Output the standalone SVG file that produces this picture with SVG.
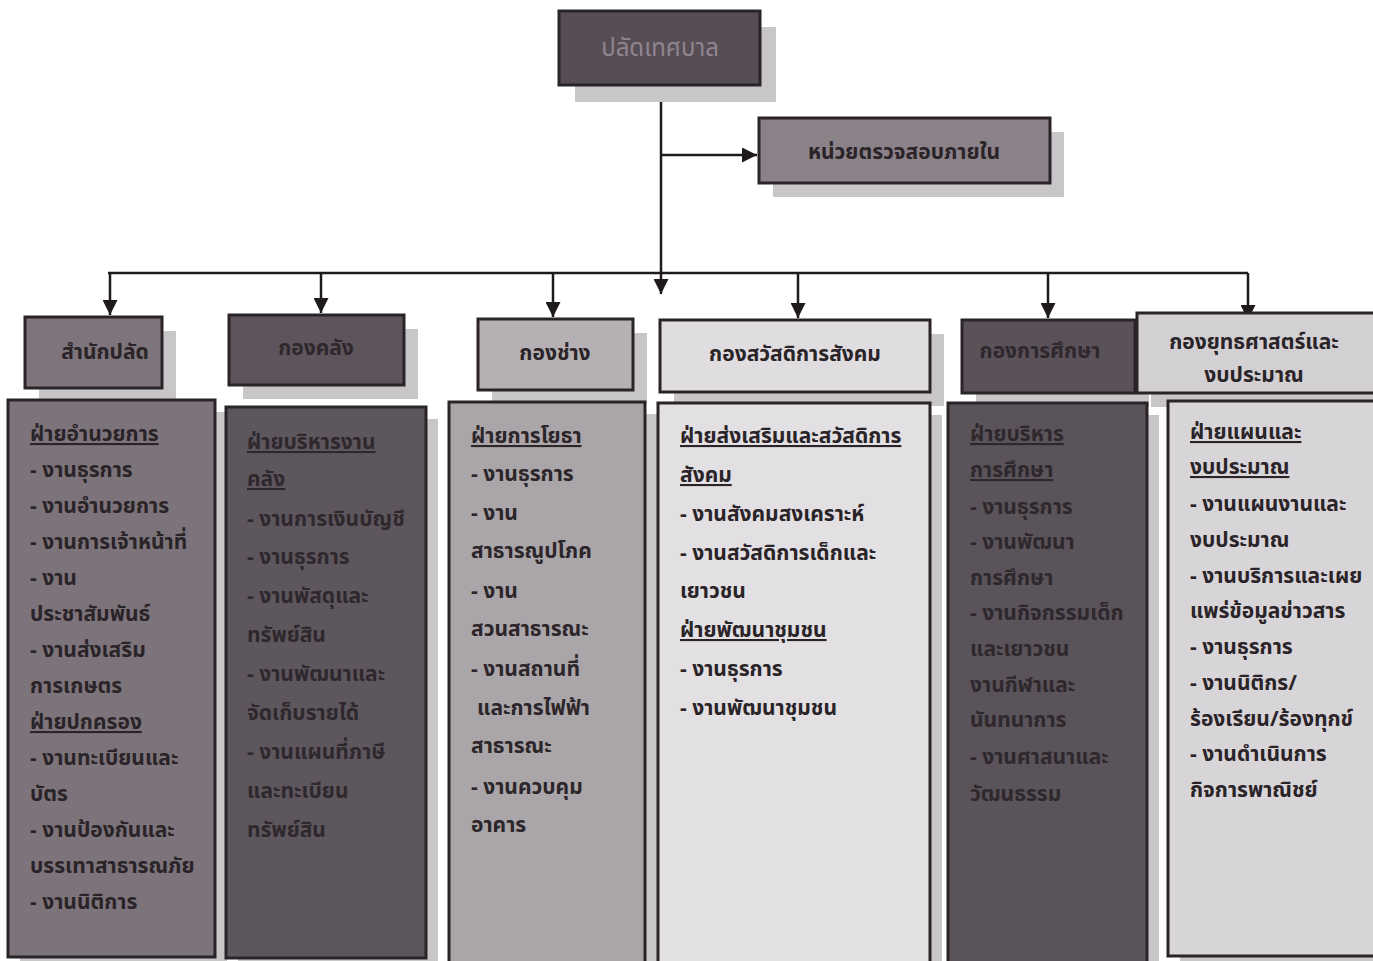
<svg xmlns="http://www.w3.org/2000/svg" width="1373" height="961" viewBox="0 0 1373 961">
<style>
.sh{fill:#c9c6c9}
.bx{stroke:#2a2428;stroke-width:3}
.t{font-family:"Noto Sans Thai","Loma","Garuda","Tahoma","DejaVu Sans",sans-serif;font-size:21px;font-weight:bold}
.h{font-family:"Noto Sans Thai","Loma","Garuda","Tahoma","DejaVu Sans",sans-serif;font-size:21px;font-weight:bold;text-anchor:middle}
.u{text-decoration:underline}
.ln{stroke:#1e1a1d;stroke-width:2.5;fill:none}
</style>
<defs>
<marker id="ar" viewBox="0 0 10 10" refX="10" refY="5" markerWidth="6" markerHeight="6" orient="auto" markerUnits="strokeWidth">
<path d="M0,0 L10,5 L0,10 z" fill="#1e1a1d"/>
</marker>
</defs>
<rect width="1373" height="961" fill="#ffffff"/>

<g id="connectors">
<path class="ln" d="M661,85 V294" marker-end="url(#ar)"/>
<path class="ln" d="M661,155 H757" marker-end="url(#ar)"/>
<path class="ln" d="M108,273 H1248"/>
<path class="ln" d="M110,273 V315" marker-end="url(#ar)"/>
<path class="ln" d="M321,273 V313" marker-end="url(#ar)"/>
<path class="ln" d="M553,273 V317" marker-end="url(#ar)"/>
<path class="ln" d="M798,273 V318" marker-end="url(#ar)"/>
<path class="ln" d="M1048,273 V318" marker-end="url(#ar)"/>
<path class="ln" d="M1248,273 V320" marker-end="url(#ar)"/>
</g>

<g id="n-top">
<rect class="sh" x="575" y="27" width="201" height="75"/>
<rect class="bx" x="559" y="11" width="201" height="74" fill="#574d55"/>
<text class="h" x="660" y="56" fill="#8f8590" style="font-weight:normal;font-size:24px">ปลัดเทศบาล</text>
</g>

<g id="n-audit">
<rect class="sh" x="773" y="132" width="291" height="65"/>
<rect class="bx" x="759" y="118" width="291" height="65" fill="#8a8189"/>
<text class="h" x="904" y="159" fill="#2a2428">หน่วยตรวจสอบภายใน</text>
</g>

<g id="n-h1">
<rect class="sh" x="39" y="331" width="137" height="71"/>
<rect class="bx" x="25" y="317" width="137" height="71" fill="#7e757c"/>
<text class="h" x="105" y="359" fill="#2a2428">สำนักปลัด</text>
</g>
<g id="n-h2">
<rect class="sh" x="243" y="329" width="175" height="70"/>
<rect class="bx" x="229" y="315" width="175" height="70" fill="#5e555c"/>
<text class="h" x="316" y="355" fill="#2e282d">กองคลัง</text>
</g>
<g id="n-h3">
<rect class="sh" x="492" y="333" width="155" height="71"/>
<rect class="bx" x="478" y="319" width="155" height="71" fill="#b5b0b3"/>
<text class="h" x="555" y="360" fill="#2a2428">กองช่าง</text>
</g>
<g id="n-h4">
<rect class="sh" x="674" y="334" width="270" height="72"/>
<rect class="bx" x="660" y="320" width="270" height="72" fill="#e0dde0"/>
<text class="h" x="795" y="361" fill="#2a2428">กองสวัสดิการสังคม</text>
</g>
<g id="n-h5">
<rect class="sh" x="976" y="334" width="173" height="73"/>
<rect class="bx" x="962" y="320" width="173" height="73" fill="#5a5258"/>
<text class="h" x="1040" y="358" fill="#2e282d">กองการศึกษา</text>
</g>
<g id="n-h6">
<rect class="sh" x="1151" y="327" width="240" height="80"/>
<rect class="bx" x="1137" y="313" width="245" height="80" fill="#d3d0d3"/>
<text class="h" x="1254" y="349" fill="#2a2428">กองยุทธศาสตร์และ</text>
<text class="h" x="1254" y="382" fill="#2a2428">งบประมาณ</text>
</g>

<g id="n-c1">
<rect class="sh" x="20" y="412" width="207" height="560"/>
<rect class="bx" x="8" y="400" width="207" height="557" fill="#7d747b"/>
<g class="t" fill="#2a2428">
<text x="30" y="441" class="u">ฝ่ายอำนวยการ</text>
<text x="30" y="477">- งานธุรการ</text>
<text x="30" y="513">- งานอำนวยการ</text>
<text x="30" y="549">- งานการเจ้าหน้าที่</text>
<text x="30" y="585">- งาน</text>
<text x="30" y="621">ประชาสัมพันธ์</text>
<text x="30" y="657">- งานส่งเสริม</text>
<text x="30" y="693">การเกษตร</text>
<text x="30" y="729" class="u">ฝ่ายปกครอง</text>
<text x="30" y="765">- งานทะเบียนและ</text>
<text x="30" y="801">บัตร</text>
<text x="30" y="837">- งานป้องกันและ</text>
<text x="30" y="873">บรรเทาสาธารณภัย</text>
<text x="30" y="909">- งานนิติการ</text>
</g>
</g>

<g id="n-c2">
<rect class="sh" x="238" y="419" width="200" height="560"/>
<rect class="bx" x="226" y="407" width="200" height="551" fill="#5e565d"/>
<g class="t" fill="#2e282d">
<text x="247" y="449" class="u">ฝ่ายบริหารงาน</text>
<text x="247" y="486" class="u">คลัง</text>
<text x="247" y="526">- งานการเงินบัญชี</text>
<text x="247" y="564">- งานธุรการ</text>
<text x="247" y="603">- งานพัสดุและ</text>
<text x="247" y="642">ทรัพย์สิน</text>
<text x="247" y="681">- งานพัฒนาและ</text>
<text x="247" y="720">จัดเก็บรายได้</text>
<text x="247" y="759">- งานแผนที่ภาษี</text>
<text x="247" y="798">และทะเบียน</text>
<text x="247" y="837">ทรัพย์สิน</text>
</g>
</g>

<g id="n-c3">
<rect class="sh" x="461" y="414" width="196" height="560"/>
<rect class="bx" x="449" y="402" width="196" height="562" fill="#aaa5a8"/>
<g class="t" fill="#2c262a">
<text x="471" y="443" class="u">ฝ่ายการโยธา</text>
<text x="471" y="481">- งานธุรการ</text>
<text x="471" y="520">- งาน</text>
<text x="471" y="558">สาธารณูปโภค</text>
<text x="471" y="598">- งาน</text>
<text x="471" y="636">สวนสาธารณะ</text>
<text x="471" y="676">- งานสถานที่</text>
<text x="477" y="715">และการไฟฟ้า</text>
<text x="471" y="753">สาธารณะ</text>
<text x="471" y="794">- งานควบคุม</text>
<text x="471" y="832">อาคาร</text>
</g>
</g>

<g id="n-c4">
<rect class="sh" x="670" y="415" width="272" height="560"/>
<rect class="bx" x="658" y="403" width="272" height="562" fill="#e2e0e2"/>
<g class="t" fill="#2a2428">
<text x="680" y="443" class="u">ฝ่ายส่งเสริมและสวัสดิการ</text>
<text x="680" y="482" class="u">สังคม</text>
<text x="680" y="521">- งานสังคมสงเคราะห์</text>
<text x="680" y="560">- งานสวัสดิการเด็กและ</text>
<text x="680" y="598">เยาวชน</text>
<text x="680" y="637" class="u">ฝ่ายพัฒนาชุมชน</text>
<text x="680" y="676">- งานธุรการ</text>
<text x="680" y="715">- งานพัฒนาชุมชน</text>
</g>
</g>

<g id="n-c5">
<rect class="sh" x="960" y="415" width="199" height="560"/>
<rect class="bx" x="948" y="403" width="199" height="562" fill="#5a5359"/>
<g class="t" fill="#2e282d">
<text x="970" y="441" class="u">ฝ่ายบริหาร</text>
<text x="970" y="477" class="u">การศึกษา</text>
<text x="970" y="514">- งานธุรการ</text>
<text x="970" y="549">- งานพัฒนา</text>
<text x="970" y="585">การศึกษา</text>
<text x="970" y="620">- งานกิจกรรมเด็ก</text>
<text x="970" y="656">และเยาวชน</text>
<text x="970" y="692">งานกีฬาและ</text>
<text x="970" y="727">นันทนาการ</text>
<text x="970" y="764">- งานศาสนาและ</text>
<text x="970" y="801">วัฒนธรรม</text>
</g>
</g>

<g id="n-c6">
<rect class="sh" x="1180" y="413" width="210" height="560"/>
<rect class="bx" x="1168" y="401" width="215" height="555" fill="#d8d5d8"/>
<g class="t" fill="#2a2428">
<text x="1190" y="439" class="u">ฝ่ายแผนและ</text>
<text x="1190" y="474" class="u">งบประมาณ</text>
<text x="1190" y="511">- งานแผนงานและ</text>
<text x="1190" y="547">งบประมาณ</text>
<text x="1190" y="583">- งานบริการและเผย</text>
<text x="1190" y="618">แพร่ข้อมูลข่าวสาร</text>
<text x="1190" y="654">- งานธุรการ</text>
<text x="1190" y="690">- งานนิติกร/</text>
<text x="1190" y="726">ร้องเรียน/ร้องทุกข์</text>
<text x="1190" y="761">- งานดำเนินการ</text>
<text x="1190" y="797">กิจการพาณิชย์</text>
</g>
</g>
</svg>
